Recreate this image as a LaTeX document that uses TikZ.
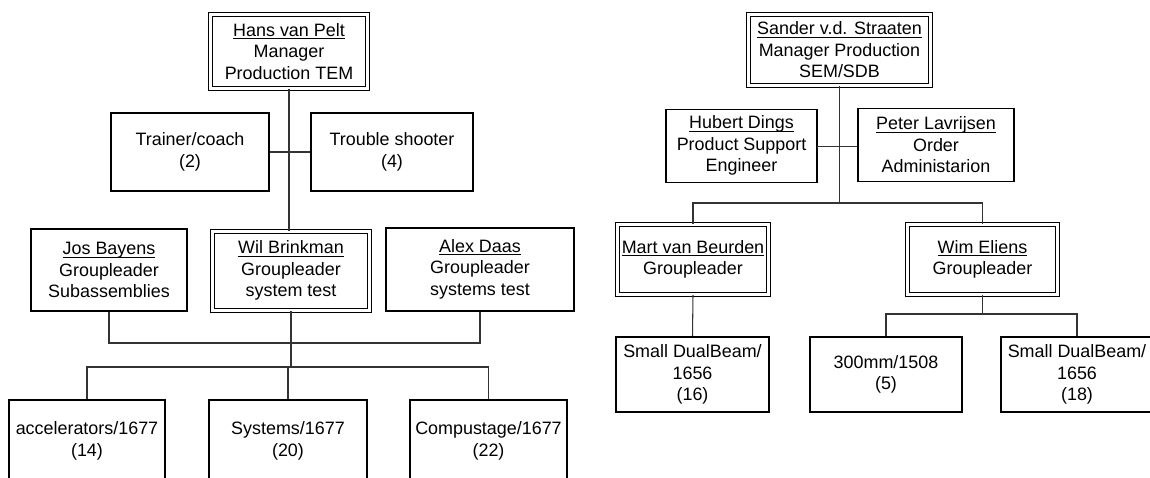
\documentclass[tikz,border=0pt]{standalone}
\usepackage{fontspec}
\setmainfont{Liberation Sans}
\usepackage{tikz}

\newcommand{\orgfont}{\fontsize{10.2}{12.2}\selectfont}
\newcommand{\who}[1]{\underline{\smash{#1}}\vphantom{Hg}}

\tikzset{
	unit/.style={draw, line width=1.1pt, align=center, inner sep=0pt, font=\orgfont},
	head/.style={unit, double, line width=0.7pt, double distance=1.3pt},
	link/.style={line width=0.6pt, black!80}
}

\begin{document}
\begin{tikzpicture}[x=0.02cm, y=-0.02cm]

	\useasboundingbox (0,0) rectangle (1150,477);
	\clip (0,0) rectangle (1150,477);

	% TEM side
	\node[head, minimum width=3.14cm, minimum height=1.48cm] (hans) at (289,51.5) {\who{Hans van Pelt}\\Manager\\Production TEM};
	\node[unit, minimum width=3.16cm, minimum height=1.56cm] (trainer) at (190,152) {Trainer/coach\\(2)};
	\node[unit, minimum width=3.24cm, minimum height=1.56cm] (trouble) at (392,152) {Trouble shooter\\(4)};
	\node[unit, minimum width=3.12cm, minimum height=1.64cm] (jos) at (109,270) {\who{Jos Bayens}\\Groupleader\\Subassemblies};
	\node[head, minimum width=3.14cm, minimum height=1.58cm] (wil) at (291,271) {\who{Wil Brinkman}\\Groupleader\\system test};
	\node[unit, minimum width=3.76cm, minimum height=1.66cm] (alex) at (480,269.5) {\who{Alex Daas}\\Groupleader\\systems test};
	\node[unit, anchor=north, minimum width=3.12cm, minimum height=1.64cm] (acc) at (87,399) {accelerators/1677\\(14)};
	\node[unit, anchor=north, minimum width=3.16cm, minimum height=1.64cm] (sys) at (288,399) {Systems/1677\\(20)};
	\node[unit, anchor=north, minimum width=3.14cm, minimum height=1.64cm] (comp) at (488.5,399) {Compustage/1677\\(22)};

	\coordinate (lbar) at (289,343);
	\coordinate (lsplit) at (289,367);
	\draw[link] (hans.south) -- (hans.south |- wil.north);
	\draw[link] (trainer.east) -- (trouble.west);
	\draw[link] (jos.south) -- (jos.south |- lbar) -- (alex.south |- lbar) -- (alex.south);
	\draw[link] (wil.south) -- (wil.south |- lsplit);
	\draw[link] (acc.north) -- (acc.north |- lsplit) -- (comp.north |- lsplit) -- (comp.north);
	\draw[link] (sys.north) -- (sys.north |- lsplit);

	% SEM/SDB side
	\node[head, minimum width=3.64cm, minimum height=1.42cm] (sander) at (839.5,50) {\who{Sander v.d. Straaten}\\Manager Production\\SEM/SDB};
	\node[unit, minimum width=3.02cm, minimum height=1.46cm] (hubert) at (741.5,146) {\who{Hubert Dings}\\Product Support\\Engineer};
	\node[unit, minimum width=3.12cm, minimum height=1.46cm] (peter) at (936,145) {\who{Peter Lavrijsen}\\Order\\Administarion};
	\node[head, minimum width=3.02cm, minimum height=1.40cm] (mart) at (693,259.5) {\who{Mart van Beurden}\\Groupleader};
	\node[head, minimum width=3.00cm, minimum height=1.40cm] (wim) at (982.5,259.5) {\who{Wim Eliens}\\Groupleader};
	\node[unit, minimum width=3.06cm, minimum height=1.50cm] (sdb16) at (692.5,374.5) {Small DualBeam/\\1656\\(16)};
	\node[unit, minimum width=3.04cm, minimum height=1.50cm] (mm300) at (886,374.5) {300mm/1508\\(5)};
	\node[unit, minimum width=3.04cm, minimum height=1.50cm] (sdb18) at (1077,374.5) {Small DualBeam/\\1656\\(18)};

	\coordinate (rsplit) at (839,203);
	\coordinate (wsplit) at (982,314);
	\draw[link] (sander.south) -- (sander.south |- rsplit);
	\draw[link] ([yshift=-0.03cm]hubert.east) -- ([yshift=-0.03cm]peter.west -| hubert.east) -- ([yshift=-0.03cm]peter.west);
	\draw[link] (mart.north) -- (mart.north |- rsplit) -- (wim.north |- rsplit) -- (wim.north);
	\draw[link] (mart.south) -- (sdb16.north);
	\draw[link] (wim.south) -- (wim.south |- wsplit);
	\draw[link] (mm300.north) -- (mm300.north |- wsplit) -- (sdb18.north |- wsplit) -- (sdb18.north);

\end{tikzpicture}
\end{document}
